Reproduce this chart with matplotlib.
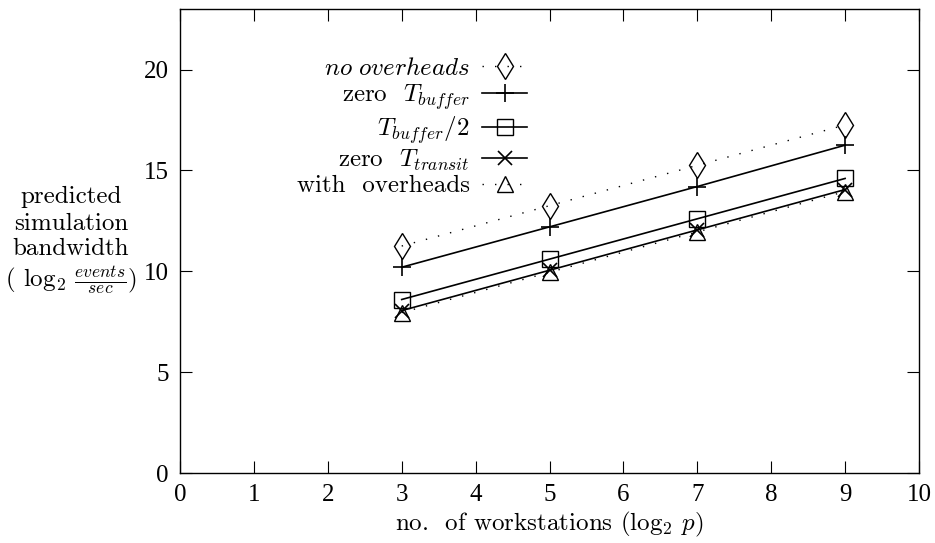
import matplotlib
matplotlib.use("Agg")
import matplotlib.pyplot as plt

plt.rcParams['mathtext.fontset'] = 'cm'
plt.rcParams['font.family'] = ['Liberation Serif', 'DejaVu Serif']

x = [3, 5, 7, 9]
no_overheads = [11.25, 13.25, 15.25, 17.25]
zero_tbuffer = [10.2, 12.2, 14.2, 16.25]
half_tbuffer = [8.6, 10.6, 12.6, 14.6]
zero_ttransit = [8.05, 10.05, 12.05, 14.05]
with_overheads = [7.95, 9.95, 11.95, 13.95]

labels = [r'$\mathit{no\ overheads}$',
          r'zero  $T_{buffer}$',
          r'$T_{buffer}/2$',
          r'zero  $T_{transit}$',
          r'with  overheads']

ylabel_lines = ['predicted', 'simulation', 'bandwidth',
                r'( log$_2$ $\frac{events}{sec}$)']

xticks = list(range(0, 11))
yticks = [0, 5, 10, 15, 20]

fig = plt.figure(figsize=(9.35, 5.43), dpi=100)
ax = fig.add_axes([180/935, 1-473/543, (919-180)/935, (473-9)/543])

dot = (0, (1, 8))
ax.plot(x, no_overheads, color='black', lw=1, linestyle=dot, marker='d', ms=13,
        mfc='none', mec='black', mew=1.0, label=labels[0])
ax.plot(x, zero_tbuffer, color='black', lw=1.2, linestyle='-', marker='+', ms=13,
        mec='black', mew=1.2, label=labels[1])
ax.plot(x, half_tbuffer, color='black', lw=1.2, linestyle='-', marker='s', ms=12,
        mfc='none', mec='black', mew=1.0, label=labels[2])
ax.plot(x, zero_ttransit, color='black', lw=1.2, linestyle='-', marker='x', ms=10,
        mec='black', mew=1.2, label=labels[3])
ax.plot(x, with_overheads, color='black', lw=1, linestyle=dot, marker='^', ms=12,
        mfc='none', mec='black', mew=1.0, label=labels[4])

ax.set_xlim(0, 10)
ax.set_ylim(0, 23)
ax.set_xticks(xticks)
ax.set_yticks(yticks)
ax.tick_params(direction='in', length=8.5, width=0.8, top=True, right=True,
               labelsize=18, pad=8)
for s in ax.spines.values():
    s.set_linewidth(1.0)

cm = 'cmr10'
ax.set_xlabel(r'no.  of workstations (log$_2$ $p$)', fontsize=18, family=cm, labelpad=3)
baselines = [203, 230, 255, 287]
for txt, yb in zip(ylabel_lines, baselines):
    fig.text(71/935, 1-yb/543, txt, ha='center', va='baseline',
             fontsize=18, family=cm)

leg = ax.legend(loc='upper right', bbox_to_anchor=(0.487, 0.922), frameon=False,
                markerfirst=False, handlelength=1.8, handletextpad=0.5,
                labelspacing=0.08, borderpad=0, prop={'family': cm, 'size': 18})
for col in leg._legend_handle_box.get_children():
    col.align = 'right'

fig.savefig('out.png', dpi=100)
